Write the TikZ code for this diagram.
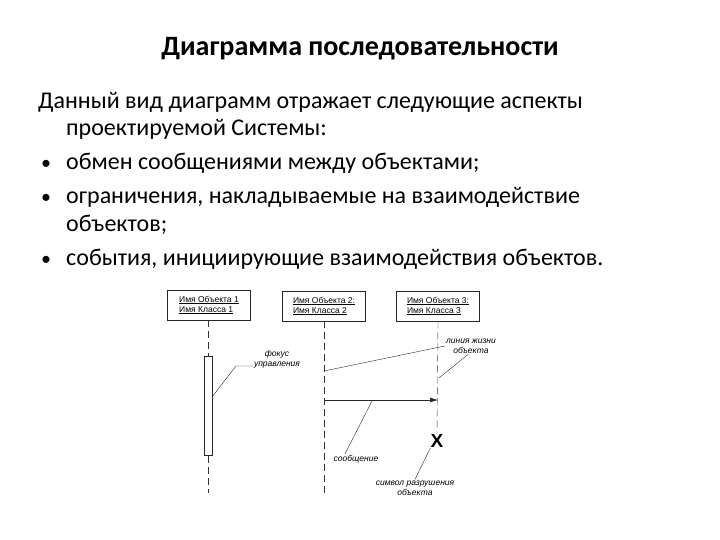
\documentclass[tikz,border=0pt]{standalone}
\usepackage{fontspec}
\setmainfont{Carlito}
\newfontfamily\scanfont{Liberation Sans}
\usepackage{tikz}
\usetikzlibrary{positioning}
\usetikzlibrary{calc}
\usetikzlibrary{arrows.meta}

\tikzset{
  slide/.style={anchor=base west, inner sep=0pt, font=\fontsize{24}{28}\selectfont},
  objbox/.style={draw=black!85, semithick, minimum width=83pt, minimum height=30pt, align=left,
    inner sep=2pt, font=\scanfont\fontsize{8.5}{10}\selectfont},
  lifeline/.style={draw=black!80, dash pattern=on 7pt off 4pt},
  note/.style={align=center, inner sep=1pt, font=\scanfont\itshape\fontsize{8.5}{10}\selectfont},
  lead/.style={draw=black!85, thin},
}

\begin{document}
\begin{tikzpicture}[x=1pt, y=-1pt]
    \useasboundingbox (0,0) rectangle (720,540);

    % slide text
    \node[anchor=base, inner sep=0pt, font=\bfseries\fontsize{28}{32}\selectfont] (title) at (360,56) {Диаграмма последовательности};
    \node[slide] (t1) at (38,109) {Данный вид диаграмм отражает следующие аспекты};
    \node[slide] (t2) at (66,136) {проектируемой Системы:};
    \node[slide, font=\fontsize{20}{24}\selectfont] (b1) at (41,170) {•};
    \node[slide] (t3) at (66,170) {обмен сообщениями между объектами;};
    \node[slide, font=\fontsize{20}{24}\selectfont] (b2) at (41,204) {•};
    \node[slide] (t4) at (66,204) {ограничения, накладываемые на взаимодействие};
    \node[slide] (t5) at (66,231) {объектов;};
    \node[slide, font=\fontsize{20}{24}\selectfont] (b3) at (41,265) {•};
    \node[slide] (t6) at (66,265) {события, инициирующие взаимодействия объектов.};

    % objects
    \node[objbox] (obj1) at (209,305) {\underline{Имя Объекта 1}\\\underline{Имя Класса 1}};
    \node[objbox] (obj2) at (324,306) {\underline{Имя Объекта 2:}\\\underline{Имя Класса 2}};
    \node[objbox] (obj3) at (438,306) {\underline{Имя Объекта 3:}\\\underline{Имя Класса 3}};

    % lifelines
    \node[draw=black!85, minimum width=8pt, minimum height=99pt, inner sep=0pt] (act) at (208,406) {};
    \coordinate (end1) at (208,493);
    \coordinate (end2) at (324,493);
    \draw[lifeline] (obj1.south -| act.north) -- (act.north);
    \draw[lifeline] (act.south) -- (end1);
    \draw[lifeline] (obj2.south) -- (end2);

    % message and destruction
    \coordinate (m1) at (324,400);
    \coordinate (m2) at (438,400);
    \draw[black!85, semithick, -{Latex[length=8pt,width=5pt]}] (m1) -- (m2);
    \node[font=\scanfont\bfseries\fontsize{19}{19}\selectfont, inner sep=0pt] (kill) at (437,441) {X};
    \draw[lifeline] (obj3.south) -- (kill.north);

    % labels
    \node[note] (focus) at (277,359) {фокус\\управления};
    \coordinate (fb) at (236,366);
    \coordinate (fa) at (212,397);
    \draw[lead] (focus.west |- fb) -- (fb) -- (fa);

    \node[note] (life) at (471,346) {линия жизни\\объекта};
    \coordinate (l2p) at (324,371);
    \coordinate (l3p) at (439,378);
    \draw[lead] (life.west) -- (l2p);
    \draw[lead] ($(life.south)+(-3,0)$) -- (l3p);

    \node[note] (msg) at (356,459) {сообщение};
    \coordinate (mp) at (372,401);
    \draw[lead] ($(msg.north)+(-11,0)$) -- (mp);

    \node[note] (dest) at (415,488) {символ разрушения\\объекта};
    \draw[lead] (dest.north) -- (kill.south west);
\end{tikzpicture}
\end{document}
